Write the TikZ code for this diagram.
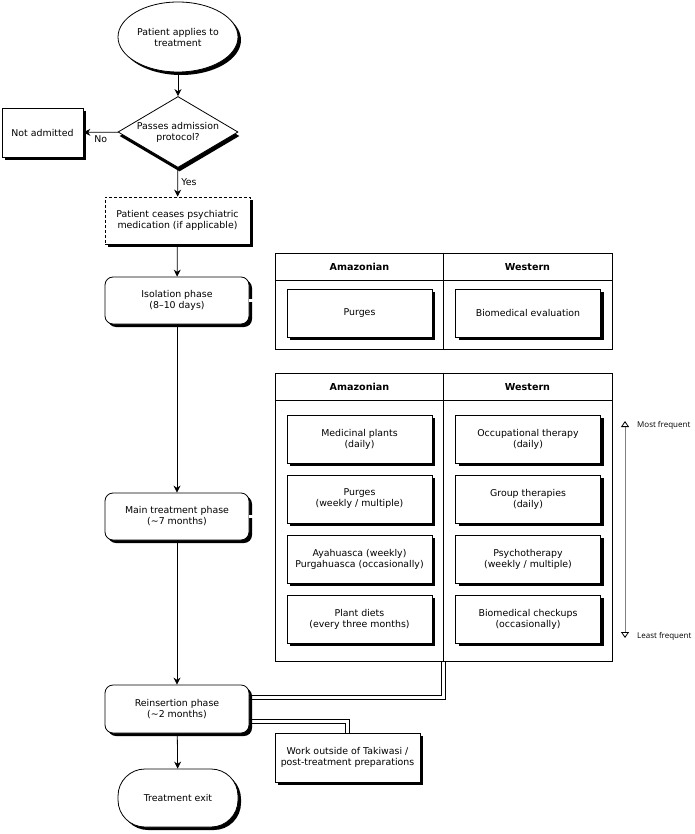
\documentclass[tikz,border=0pt]{standalone}
\usepackage{fontspec}
\setmainfont{DejaVu Sans}
\newfontfamily\sidefont{Open Sans}
\usetikzlibrary{arrows.meta,calc,positioning,shapes.geometric,shadows}
\tikzset{
  shd/.style={drop shadow={shadow xshift=3pt,shadow yshift=-3pt,fill=black,opacity=1}},
  boxnode/.style={draw,fill=white,line width=0.8pt,align=center,minimum width=145pt,minimum height=48pt,inner sep=2pt,shd},
  phasebox/.style={boxnode,rounded corners=8pt},
  tbl/.style={draw,line width=0.6pt},
  hdr/.style={font=\bfseries\fontsize{9.6}{11}\selectfont},
  sidelbl/.style={anchor=west,inner sep=0pt,font=\sidefont\fontsize{8}{10}\selectfont},
  dbl/.style={double,double distance=2.6pt,line width=0.6pt},
  flow/.style={->,line width=0.8pt}
}

\begin{document}
\begin{tikzpicture}[x=1pt,y=-1pt,>={Stealth[length=7pt,width=7pt]},font=\fontsize{9.4}{11}\selectfont]
  \useasboundingbox (0,0) rectangle (694,834);
  % main column
  \node[ellipse,draw,fill=white,line width=0.8pt,shd,minimum width=120pt,minimum height=70pt,align=center,inner sep=0pt] (apply) at (178,37) {Patient applies to\\treatment};
  \node[diamond,aspect=1.7,draw,fill=white,line width=0.8pt,drop shadow={shadow xshift=1.5pt,shadow yshift=-4pt,fill=black,opacity=1},minimum width=120pt,minimum height=71pt,align=center,inner sep=0pt] (admit) at (178,132) {Passes admission\\protocol?};
  \node[boxnode,minimum width=81pt,minimum height=49pt] (reject) at (42.5,132.5) {Not admitted};
  \node[boxnode,minimum height=47pt,dash pattern=on 3pt off 2pt] (meds) at (177.5,220.5) {Patient ceases psychiatric\\medication (if applicable)};
  \node[phasebox,minimum width=144pt,minimum height=47pt] (iso) at (177,300.5) {Isolation phase\\(8–10 days)};
  \node[phasebox,minimum width=144pt,minimum height=47pt] (main) at (177,516.5) {Main treatment phase\\(\textasciitilde7 months)};
  \node[phasebox,minimum width=144pt] (reins) at (177,709) {Reinsertion phase\\(\textasciitilde2 months)};
  \node[draw,fill=white,line width=0.8pt,shd,rounded corners=27pt,minimum width=120pt,minimum height=58pt] (exit) at (178,798) {Treatment exit};
  \node[boxnode,minimum height=49pt] (work) at (347.5,757.5) {Work outside of Takiwasi /\\post-treatment preparations};

  % isolation table
  \node[tbl,minimum width=337pt,minimum height=96pt] (tabA) at (443.5,301) {};
  \draw[tbl] ($(tabA.north west)+(0,28)$) -- ($(tabA.north east)+(0,28)$);
  \draw[tbl] (tabA.north) -- (tabA.south);
  \node[hdr] (amazA) at ($(tabA.north)+(-84,14)$) {Amazonian};
  \node[hdr] (westA) at ($(tabA.north)+(84,14)$) {Western};
  \node[boxnode] (purgeA) at (359.5,313) {Purges};
  \node[boxnode] (evalW) at (528,313) {Biomedical evaluation};

  % main treatment table
  \node[tbl,minimum width=337pt,minimum height=288pt] (tabB) at (443.5,517) {};
  \draw[tbl] ($(tabB.north west)+(0,28)$) -- ($(tabB.north east)+(0,28)$);
  \draw[tbl] (tabB.north) -- (tabB.south);
  \node[hdr] (amazB) at ($(tabB.north)+(-84,14)$) {Amazonian};
  \node[hdr] (westB) at ($(tabB.north)+(84,14)$) {Western};
  \node[boxnode] (plantsA) at (359.5,439) {Medicinal plants\\(daily)};
  \node[boxnode] (purgesA) at (359.5,499) {Purges\\(weekly / multiple)};
  \node[boxnode] (ayaA) at (359.5,559) {Ayahuasca (weekly)\\Purgahuasca (occasionally)};
  \node[boxnode] (dietsA) at (359.5,619) {Plant diets\\(every three months)};
  \node[boxnode] (occW) at (528,439) {Occupational therapy\\(daily)};
  \node[boxnode] (groupW) at (528,499) {Group therapies\\(daily)};
  \node[boxnode] (psychoW) at (528,559) {Psychotherapy\\(weekly / multiple)};
  \node[boxnode] (checkW) at (528,619) {Biomedical checkups\\(occasionally)};

  % frequency scale
  \coordinate (most) at (625,421);
  \coordinate (least) at (625,638);
  \draw[gray,line width=0.8pt,{Triangle[open,length=6pt,width=8pt,color=black]}-{Triangle[open,length=6pt,width=8pt,color=black]}] (most) -- (least);
  \node[sidelbl] (mostlbl) at (637,425) {Most frequent};
  \node[sidelbl] (leastlbl) at (637,636) {Least frequent};

  % connectors
  \draw[flow] (apply) -- (admit);
  \draw[flow] (admit) -- node[below]{No} (reject);
  \draw[flow] (admit) -- node[right]{Yes} (meds);
  \draw[flow] (meds) -- (iso);
  \draw[flow] (iso) -- (main);
  \draw[flow] (main) -- (reins);
  \draw[flow] (reins) -- (exit);
  \draw[dbl] (iso.east) -- (iso.east -| tabA.west);
  \draw[dbl] (main.east) -- (main.east -| tabB.west);
  % bent double links, drawn as two rails
  \coordinate (reinsA) at ($(reins.east)+(0,-12)$);
  \coordinate (reinsB) at ($(reins.east)+(0,12)$);
  \draw[tbl] ($(reinsA)+(0,-1.9)$) -| ($(tabB.south)+(-1.9,0)$);
  \draw[tbl] ($(reinsA)+(0,1.9)$) -| ($(tabB.south)+(1.9,0)$);
  \draw[tbl] ($(reinsB)+(0,-1.9)$) -| ($(work.north)+(1.9,0)$);
  \draw[tbl] ($(reinsB)+(0,1.9)$) -| ($(work.north)+(-1.9,0)$);
\end{tikzpicture}
\end{document}
